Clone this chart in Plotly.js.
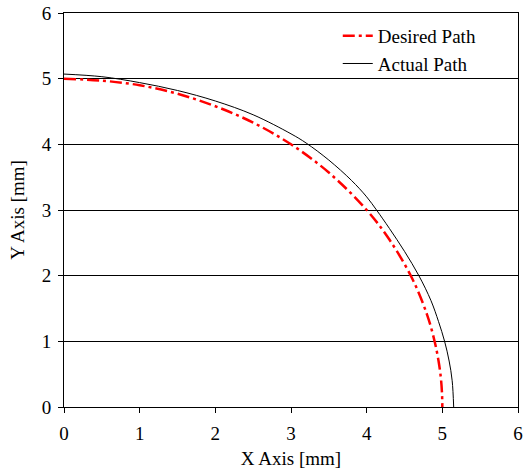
<!DOCTYPE html>
<html>
<head>
<meta charset="utf-8">
<script src="https://cdn.plot.ly/plotly-3.0.1.min.js"></script>
<style>html,body{margin:0;padding:0;background:#fff;}#chart{width:527px;height:469px;}</style>
</head>
<body>
<div id="chart"></div>
<script>
// Desired path
const desiredX = [0, 0.5, 1, 1.5, 2, 2.5, 3, 3.5, 4, 4.3, 4.6, 4.8, 4.9, 4.95, 4.98, 4.995, 5];
const desiredY = [5, 4.97, 4.90, 4.77, 4.58, 4.33, 4.0, 3.57, 3.0, 2.55, 1.96, 1.40, 0.99, 0.70, 0.45, 0.22, 0];
// Actual path
const actualX = [0, 0.5, 1, 1.5, 2, 2.5, 3, 3.2, 3.5, 3.8, 4, 4.13, 4.3, 4.5, 4.69, 4.85, 4.95, 5.03, 5.09, 5.13, 5.15];
const actualY = [5.07, 5.03, 4.94, 4.82, 4.66, 4.45, 4.16, 4.02, 3.76, 3.45, 3.2, 3.0, 2.72, 2.37, 2.0, 1.62, 1.3, 1.0, 0.7, 0.4, 0];
const tickVals = [0, 1, 2, 3, 4, 5, 6];
const seriesNames = ["Desired Path", "Actual Path"];

const font = {family: "Liberation Serif", size: 19, color: "#000"};

const traces = [
  {x: desiredX, y: desiredY, name: seriesNames[0], mode: "lines",
   line: {color: "#ff0000", width: 2.5, dash: "12px,4px,3px,4px", shape: "spline"}},
  {x: actualX, y: actualY, name: seriesNames[1], mode: "lines",
   line: {color: "#000000", width: 1, shape: "spline"}}
];

const layout = {
  width: 527, height: 469,
  margin: {l: 64, r: 9, t: 13, b: 62},
  paper_bgcolor: "#fff", plot_bgcolor: "#fff",
  font: font,
  showlegend: true,
  legend: {x: 0.603, y: 0.99, xanchor: "left", yanchor: "top", bgcolor: "rgba(0,0,0,0)",
           font: {family: "Liberation Serif", size: 19, color: "#000"}, tracegroupgap: 0},
  xaxis: {range: [0, 6], tickvals: tickVals, ticks: "outside", ticklen: 5, tickcolor: "#000",
          ticklabelstandoff: 4,
          showgrid: false, zeroline: false, showline: true, mirror: true, linecolor: "#000", linewidth: 1,
          title: {text: "X Axis [mm]", font: font, standoff: 8}, tickfont: font},
  yaxis: {range: [0, 6], tickvals: tickVals, ticks: "outside", ticklen: 5, tickcolor: "#000",
          ticklabelstandoff: 3,
          showgrid: true, gridcolor: "#000", gridwidth: 1, zeroline: false,
          showline: true, mirror: true, linecolor: "#000", linewidth: 1,
          title: {text: "Y Axis [mm]", font: font, standoff: 12}, tickfont: font}
};

Plotly.newPlot("chart", traces, layout, {staticPlot: true, displayModeBar: false});
</script>
</body>
</html>
